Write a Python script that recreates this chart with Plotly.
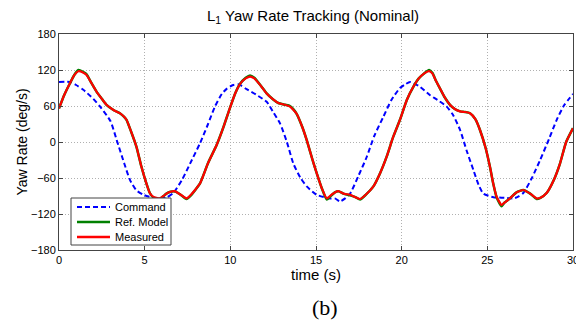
import plotly.graph_objects as go

# ---- data ----
t_cmd = [0, 0.64, 1.0, 1.42, 2.0, 2.4, 3.0, 3.37, 3.8, 4.14, 4.5, 4.92, 5.5, 5.9, 6.3, 6.67, 7.2, 7.65,
         8.23, 8.7, 9.1, 9.5, 9.8, 10.17, 10.5, 10.95, 11.5, 12.12, 12.5, 12.9, 13.3, 13.68, 14.1, 14.46,
         15.04, 15.82, 16.1, 16.4, 16.7, 16.99, 17.5, 17.96, 18.4, 18.93, 19.4, 19.9, 20.2, 20.49, 21.07,
         21.66, 22.2, 22.63, 23.0, 23.41, 23.8, 24.19, 24.5, 24.77, 25.36, 26.0, 26.53, 26.8, 27.1, 27.6,
         28.08, 28.6, 29.05, 29.5, 30]
command = [100, 100, 95, 87, 72, 59, 35, 3, -35, -63, -80, -88, -93, -94, -92, -85, -62, -36,
           -2, 30, 59, 80, 89, 95, 96, 88, 79, 67, 50, 31, 0, -36, -60, -74,
           -88, -94, -94, -99, -94, -86, -55, -25, 10, 42, 70, 90, 96, 100, 92,
           78, 68, 59, 45, 20, -15, -47, -72, -86, -92, -93, -94, -91, -85, -60,
           -30, 5, 37, 62, 80]

t_resp = [0, 0.3, 0.64, 0.9, 1.13, 1.4, 1.6, 1.9, 2.19, 2.5, 2.77, 3.2, 3.55, 3.8, 3.94, 4.2, 4.52, 4.8,
          5.1, 5.3, 5.49, 5.88, 6.1, 6.27, 6.5, 6.75, 7.1, 7.44, 7.7, 8.23, 8.7, 9.2, 9.6, 9.98, 10.3,
          10.57, 10.9, 11.15, 11.4, 11.8, 12.12, 12.5, 12.8, 13.2, 13.48, 13.7, 13.87, 14.2, 14.46, 14.8,
          15.04, 15.35, 15.63, 15.9, 16.1, 16.31, 16.6, 16.99, 17.3, 17.57, 17.9, 18.35, 18.74, 19.13,
          19.5, 19.9, 20.3, 20.68, 21.0, 21.3, 21.6, 21.8, 22.0, 22.24, 22.5, 22.82, 23.1, 23.41, 23.7,
          23.99, 24.3, 24.57, 24.9, 25.15, 25.35, 25.54, 25.83, 26.0, 26.32, 26.7, 27.1, 27.5, 27.88,
          28.1, 28.46, 28.9, 29.24, 29.6, 30]
ref_model = [56, 78, 98, 112, 120, 117, 113, 98, 84, 72, 62, 53, 48, 42, 37, 18, -8, -40,
             -69, -85, -92, -95, -90, -86, -83, -82, -88, -95, -89, -69, -35, -5, 25, 57, 82,
             97, 107, 111, 107, 93, 81, 71, 65, 62, 60, 54, 47, 25, 3, -30,
             -52, -78, -96, -89, -84, -82, -86, -89, -92, -96, -88, -74, -52, -24,
             8, 37, 70, 92, 106, 114, 120, 115, 102, 89, 75, 62, 55, 51, 50,
             48, 38, 20, -10, -41, -70, -92, -107, -101, -94, -84, -80, -86, -95,
             -93, -85, -62, -36, 0, 23]
measured = [56, 78, 98, 112, 118, 116, 112, 98, 84, 72, 62, 53, 48, 42, 37, 18, -8, -40,
            -69, -85, -91, -94, -90, -86, -83, -82, -88, -94, -88, -69, -35, -5, 25, 57, 82,
            97, 106, 109, 106, 93, 81, 71, 65, 62, 59, 53, 47, 25, 3, -30,
            -52, -78, -94, -88, -84, -82, -86, -88, -92, -95, -88, -74, -52, -24,
            8, 37, 70, 92, 106, 114, 118, 114, 102, 89, 75, 62, 55, 51, 50,
            48, 38, 20, -10, -41, -70, -91, -105, -101, -94, -84, -80, -86, -94,
            -93, -85, -62, -36, 0, 23]

series_names = ["Command", "Ref. Model", "Measured"]
series_colors = ["#0000ff", "#008000", "#ff0000"]

x_ticks = [0, 5, 10, 15, 20, 25, 30]
y_ticks = [-180, -120, -60, 0, 60, 120, 180]

FONT = "Arial, Liberation Sans, sans-serif"
# the page body adds an 8px offset, so the figure is 8px smaller than the window
W, H = 576, 316
L, T, PW, PH = 51, 26, 514, 216
R, B = W - L - PW, H - T - PH
OFF = 8


def px(sx):  # screen x -> paper x
    return (sx - OFF - L) / PW


def py(sy):  # screen y -> paper y
    return (T + PH - (sy - OFF)) / PH


fig = go.Figure()
fig.add_trace(go.Scatter(x=t_cmd, y=command, mode="lines", name=series_names[0], showlegend=False,
                         line=dict(color=series_colors[0], width=2, dash="5px,3px", shape="spline", smoothing=0.6)))
fig.add_trace(go.Scatter(x=t_resp, y=ref_model, mode="lines", name=series_names[1], showlegend=False,
                         line=dict(color=series_colors[1], width=2.5, shape="spline", smoothing=0.5)))
fig.add_trace(go.Scatter(x=t_resp, y=measured, mode="lines", name=series_names[2], showlegend=False,
                         line=dict(color=series_colors[2], width=2.2, shape="spline", smoothing=0.5)))

axis_common = dict(showline=True, linecolor="#444444", linewidth=1, mirror="ticks",
                   ticks="inside", ticklen=4, tickcolor="#444444",
                   showgrid=True, gridcolor="#b0b0b0", griddash="1px,2px", gridwidth=1,
                   zeroline=False, automargin=False,
                   tickfont=dict(family=FONT, size=11, color="black"))

fig.update_layout(
    width=W, height=H,
    margin=dict(l=L, r=R, t=T, b=B),
    paper_bgcolor="white", plot_bgcolor="white",
    xaxis=dict(range=[0, 30], tickvals=x_ticks,
               title=dict(text="time (s)", font=dict(family=FONT, size=15, color="black"),
                          standoff=2),
               **axis_common),
    yaxis=dict(range=[-180, 180], tickvals=y_ticks,
               title=dict(text="Yaw Rate (deg/s)", font=dict(family=FONT, size=14, color="black"),
                          standoff=0),
               **axis_common),
    showlegend=False,
)

# chart title
fig.add_annotation(text="L<sub>1</sub> Yaw Rate Tracking (Nominal)", x=px(313), y=py(16),
                   xref="paper", yref="paper", xanchor="center", yanchor="middle", showarrow=False,
                   font=dict(family=FONT, size=15, color="black"))

# legend box (drawn manually to match the compact MATLAB legend)
fig.add_shape(type="rect", xref="paper", yref="paper", x0=px(71), x1=px(171), y0=py(245), y1=py(198),
              line=dict(color="#444444", width=1), fillcolor="white", layer="above")
for i, sy in enumerate([207, 222, 237]):
    fig.add_shape(type="line", xref="paper", yref="paper", x0=px(77), x1=px(110), y0=py(sy), y1=py(sy),
                  line=dict(color=series_colors[i], width=2.5 if i else 2, dash="5px,3px" if i == 0 else "solid"),
                  layer="above")
    fig.add_annotation(text=series_names[i], x=px(113), y=py(sy), xref="paper", yref="paper",
                       xanchor="left", yanchor="middle", showarrow=False,
                       font=dict(family=FONT, size=11, color="black"))

fig.add_annotation(text="(b)", x=px(325), y=py(307), xref="paper", yref="paper",
                   xanchor="center", yanchor="middle", showarrow=False,
                   font=dict(family="Liberation Serif, Times New Roman, serif", size=22, color="black"))

fig.write_html("out.html")
